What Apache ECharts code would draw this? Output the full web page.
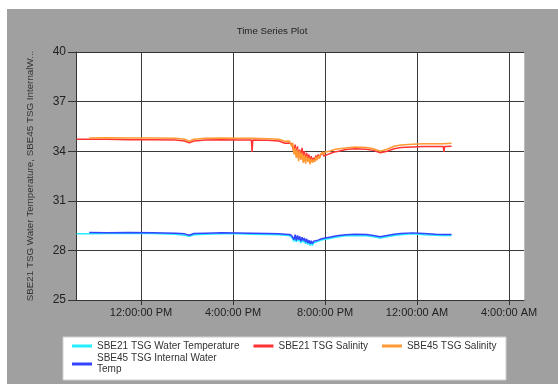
<!DOCTYPE html>
<html><head><meta charset="utf-8">
<script src="https://cdn.jsdelivr.net/npm/echarts@6/dist/echarts.min.js"></script>
<style>html,body{margin:0;padding:0;background:#fff}#c{width:558px;height:384px}</style>
</head><body><div id="c"></div>
<script>
// hours since midnight of the first day
var hours = [9.2, 9.75, 10.5, 11.5, 12.5, 13.5, 13.9, 14.1, 14.3, 14.8, 15.5, 16.2, 16.8, 16.83, 16.86, 17.5, 18.0, 18.25, 18.45,
  18.55, 18.6, 18.65, 18.7, 18.75, 18.8, 18.85, 18.9, 18.95, 19.0, 19.05, 19.1, 19.15, 19.2, 19.25, 19.3, 19.35, 19.4, 19.45, 19.5, 19.55, 19.6, 19.65, 19.7, 19.75, 19.8, 19.85, 19.9, 19.95, 20.0,
  20.2, 20.4, 20.6, 20.9, 21.3, 21.8, 22.1, 22.4, 22.7, 23.0, 23.3, 23.8, 24.3, 24.8, 25.14, 25.17, 25.2, 25.5];

var sbe21Temp = [29.0, 29.0, 29.02, 29.02, 29.02, 28.98, 28.92, 28.85, 28.95, 28.98, 29.0, 29.0, 28.98, 28.98, 28.98, 28.96, 28.95, 28.92, 28.9,
  28.8, 28.9, 28.55, 28.85, 28.5, 28.8, 28.55, 28.75, 28.45, 28.7, 28.5, 28.65, 28.4, 28.6, 28.35, 28.55, 28.3, 28.5, 28.3, 28.45, 28.35, 28.5, 28.45, 28.55, 28.5, 28.6, 28.58, 28.65, 28.62, 28.68,
  28.72, 28.78, 28.82, 28.88, 28.9, 28.88, 28.82, 28.75, 28.82, 28.9, 28.95, 29.0, 28.95, 28.92, 28.9, 28.9, 28.9, 28.9];

var sbe21Sal = [34.72, 34.72, 34.72, 34.7, 34.7, 34.68, 34.62, 34.5, 34.62, 34.68, 34.7, 34.68, 34.68, 33.95, 34.68, 34.66, 34.62, 34.48, 34.5,
  34.45, 34.2, 33.9, 34.4, 33.7, 34.3, 33.6, 34.1, 33.5, 34.2, 33.7, 34.0, 33.4, 33.9, 33.5, 33.8, 33.3, 33.7, 33.35, 33.6, 33.4, 33.75, 33.5, 33.8, 33.6, 33.75, 33.65, 33.9, 33.7, 33.8,
  33.85, 33.95, 34.0, 34.1, 34.15, 34.12, 34.05, 33.9, 34.0, 34.15, 34.22, 34.25, 34.28, 34.28, 34.28, 33.95, 34.28, 34.3];

var sbe45Sal = [null, 34.8, 34.82, 34.8, 34.8, 34.78, 34.72, 34.6, 34.72, 34.78, 34.8, 34.78, 34.78, 34.78, 34.78, 34.76, 34.72, 34.6, 34.62,
  34.3, 34.5, 33.8, 34.2, 33.6, 34.1, 33.4, 34.0, 33.5, 33.9, 33.3, 33.8, 33.25, 33.7, 33.35, 33.6, 33.2, 33.55, 33.3, 33.5, 33.35, 33.65, 33.45, 33.7, 33.55, 33.8, 33.7, 33.95, 33.8, 33.95,
  34.0, 34.1, 34.15, 34.2, 34.25, 34.22, 34.15, 34.0, 34.12, 34.3, 34.38, 34.42, 34.45, 34.45, 34.45, 34.45, 34.45, 34.48];

var sbe45Temp = [null, 29.08, 29.06, 29.08, 29.06, 29.04, 29.0, 28.92, 29.02, 29.04, 29.06, 29.05, 29.04, 29.04, 29.04, 29.02, 29.0, 28.98, 28.96,
  28.9, 28.98, 28.65, 28.95, 28.6, 28.9, 28.65, 28.85, 28.55, 28.8, 28.6, 28.75, 28.5, 28.7, 28.45, 28.62, 28.4, 28.58, 28.4, 28.55, 28.45, 28.58, 28.52, 28.62, 28.58, 28.68, 28.65, 28.72, 28.7, 28.75,
  28.8, 28.85, 28.9, 28.95, 28.98, 28.96, 28.9, 28.82, 28.9, 28.98, 29.02, 29.06, 29.02, 28.98, 28.96, 28.96, 28.96, 28.96];

var seriesNames = ['SBE21 TSG Water Temperature', 'SBE21 TSG Salinity', 'SBE45 TSG Salinity', 'SBE45 TSG Internal Water\nTemp'];
var xTickValues = [12, 16, 20, 24, 28];
var xTickLabels = ['12:00:00 PM', '4:00:00 PM', '8:00:00 PM', '12:00:00 AM', '4:00:00 AM'];
var yTickValues = [25, 28, 31, 34, 37, 40];

function pairs(vals) { return hours.map(function (h, i) { return [h, vals[i]]; }); }

var FONT = 'Liberation Sans, Arial, sans-serif';
var chart = echarts.init(document.getElementById('c'), null, {renderer: 'canvas'});
var xMin = 9.174, xMax = 28.65;
function mkSeries(name, vals, color) {
  return {name: name, type: 'line', data: pairs(vals), showSymbol: false, symbol: 'none',
    lineStyle: {color: color, width: 1.5}, itemStyle: {color: color}, connectNulls: false, animation: false};
}
chart.setOption({
  animation: false,
  backgroundColor: '#ffffff',
  graphic: [
    {type: 'rect', shape: {x: 7, y: 9, width: 551, height: 375}, style: {fill: '#a0a0a0'}, z: -10},
    {type: 'rect', shape: {x: 63, y: 337, width: 443, height: 43}, style: {fill: '#ffffff', stroke: '#d0d0d0', lineWidth: 1}, z: -5}
  ],
  title: {text: 'Time Series Plot', left: 267, top: 21, textAlign: 'center',
    textStyle: {fontFamily: FONT, fontSize: 9.7, fontWeight: 'normal', color: '#222'}},
  legend: [
    {data: seriesNames.slice(0, 3), left: 72, top: 341, orient: 'horizontal', itemWidth: 20, itemHeight: 3, itemGap: 14, icon: 'rect', padding: 0,
      textStyle: {fontFamily: FONT, fontSize: 10, color: '#333'}},
    {data: seriesNames.slice(3), left: 72, top: 353, orient: 'horizontal', itemWidth: 20, itemHeight: 3, icon: 'rect', padding: 0,
      textStyle: {fontFamily: FONT, fontSize: 10, color: '#333', lineHeight: 11}}
  ],
  grid: {left: 76, top: 52, right: 34, bottom: 84, show: true, backgroundColor: '#ffffff', borderWidth: 0},
  xAxis: [
    {type: 'value', min: xMin, max: xMax,
      axisLine: {show: true, lineStyle: {color: '#333', width: 1}},
      axisTick: {show: true, length: 5, customValues: xTickValues, lineStyle: {color: '#333'}},
      axisLabel: {customValues: xTickValues, margin: 7, fontFamily: FONT, fontSize: 11, color: '#222',
        formatter: function (v) { var i = xTickValues.indexOf(v); return i >= 0 ? xTickLabels[i] : ''; }},
      splitLine: {show: true, lineStyle: {color: '#3a3a3a', width: 1}}},
    {type: 'value', position: 'top', min: xMin, max: xMax,
      axisLine: {show: true, lineStyle: {color: '#333', width: 1}}, axisTick: {show: false}, axisLabel: {show: false}, splitLine: {show: false}}
  ],
  yAxis: [
    {type: 'value', min: 25, max: 40,
      name: 'SBE21 TSG Water Temperature, SBE45 TSG InternalW...', nameLocation: 'middle', nameGap: 41, nameRotate: 90,
      nameTextStyle: {fontFamily: FONT, fontSize: 9.8, color: '#333'},
      axisLine: {show: true, lineStyle: {color: '#333', width: 1}},
      axisTick: {show: true, length: 8, customValues: yTickValues, lineStyle: {color: '#333'}},
      axisLabel: {customValues: yTickValues, margin: 10, fontFamily: FONT, fontSize: 12, color: '#222'},
      splitLine: {show: true, lineStyle: {color: '#3a3a3a', width: 1}}},
    {type: 'value', position: 'right', min: 25, max: 40,
      axisLine: {show: true, lineStyle: {color: '#bbbbbb', width: 1}}, axisTick: {show: false}, axisLabel: {show: false}, splitLine: {show: false}}
  ],
  series: [
    mkSeries(seriesNames[0], sbe21Temp, '#22eeff'),
    mkSeries(seriesNames[1], sbe21Sal, '#ff3333'),
    mkSeries(seriesNames[2], sbe45Sal, '#ff9933'),
    mkSeries(seriesNames[3], sbe45Temp, '#3344ff')
  ]
});
</script></body></html>
